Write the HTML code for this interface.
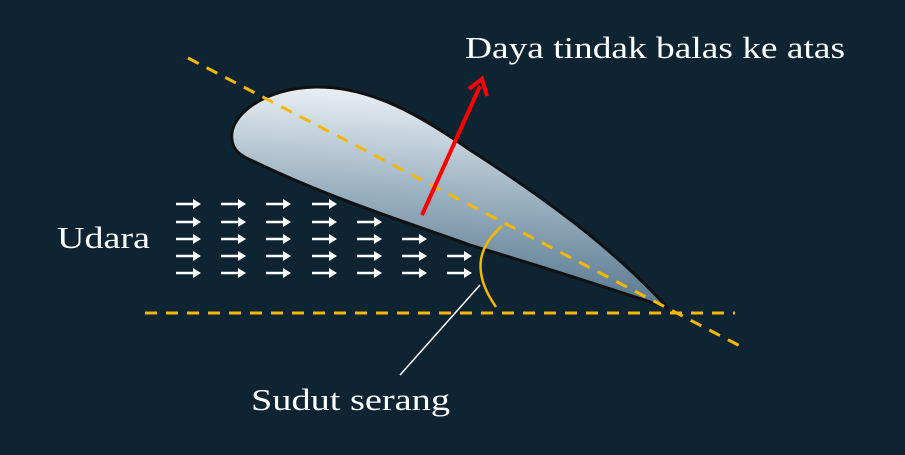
<!DOCTYPE html>
<html><head><meta charset="utf-8"><style>
body{margin:0;background:#0e2432;}
svg{display:block}
text{font-family:"Liberation Serif",serif;fill:#fff;font-size:31px}
</style></head><body>
<svg width="905" height="455" viewBox="0 0 905 455">
<rect width="905" height="455" fill="#0e2432"/>
<defs>
<linearGradient id="g" x1="0.45" y1="0" x2="0.35" y2="1">
<stop offset="0" stop-color="#eef3f7"/>
<stop offset="0.45" stop-color="#9fb5c4"/>
<stop offset="1" stop-color="#4f7088"/>
</linearGradient>
</defs>
<path d="M232,140 C228,115 265,88 315,87 C370,86 420,115 470,150 C540,195 610,245 668,308 C600,285 520,260 470,245 C400,220 330,198 255,162 C240,156 233,150 232,140 Z" fill="url(#g)" stroke="#111" stroke-width="3"/>
<line x1="188" y1="58" x2="740" y2="346" stroke="#f5b800" stroke-width="3" stroke-dasharray="12,9"/>
<line x1="145" y1="313" x2="735" y2="313" stroke="#f5b800" stroke-width="3" stroke-dasharray="12,9"/>
<line x1="422" y1="215" x2="480" y2="86" stroke="#f00" stroke-width="4"/>
<path d="M469,89 L482,79 L487,96" fill="none" stroke="#f00" stroke-width="4"/>
<path d="M502,226 C480,245 470,270 496,307" fill="none" stroke="#f5b800" stroke-width="2.5"/>
<line x1="480" y1="285" x2="400" y2="375" stroke="#fff" stroke-width="1.5"/>
<text x="465" y="58" textLength="380" lengthAdjust="spacingAndGlyphs">Daya tindak balas ke atas</text>
<text x="57" y="248" textLength="93" lengthAdjust="spacingAndGlyphs">Udara</text>
<text x="251" y="410" textLength="199" lengthAdjust="spacingAndGlyphs">Sudut serang</text>
<g stroke="#fff" stroke-width="2.5">
<path d="M176,204h18M221,204h18M266,204h18M312,204h18
M176,222h18M221,222h18M266,222h18M312,222h18M357,222h18
M176,239h18M221,239h18M266,239h18M312,239h18M357,239h18M402,239h18
M176,256h18M221,256h18M266,256h18M312,256h18M357,256h18M402,256h18M447,256h18
M176,273h18M221,273h18M266,273h18M312,273h18M357,273h18M402,273h18M447,273h18"/>
</g>
<g fill="#fff">
<path d="M193,199l8,5l-8,5zM238,199l8,5l-8,5zM283,199l8,5l-8,5zM329,199l8,5l-8,5z
M193,217l8,5l-8,5zM238,217l8,5l-8,5zM283,217l8,5l-8,5zM329,217l8,5l-8,5zM374,217l8,5l-8,5z
M193,234l8,5l-8,5zM238,234l8,5l-8,5zM283,234l8,5l-8,5zM329,234l8,5l-8,5zM374,234l8,5l-8,5zM419,234l8,5l-8,5z
M193,251l8,5l-8,5zM238,251l8,5l-8,5zM283,251l8,5l-8,5zM329,251l8,5l-8,5zM374,251l8,5l-8,5zM419,251l8,5l-8,5zM464,251l8,5l-8,5z
M193,268l8,5l-8,5zM238,268l8,5l-8,5zM283,268l8,5l-8,5zM329,268l8,5l-8,5zM374,268l8,5l-8,5zM419,268l8,5l-8,5zM464,268l8,5l-8,5z"/>
</g>
</svg>
</body></html>
